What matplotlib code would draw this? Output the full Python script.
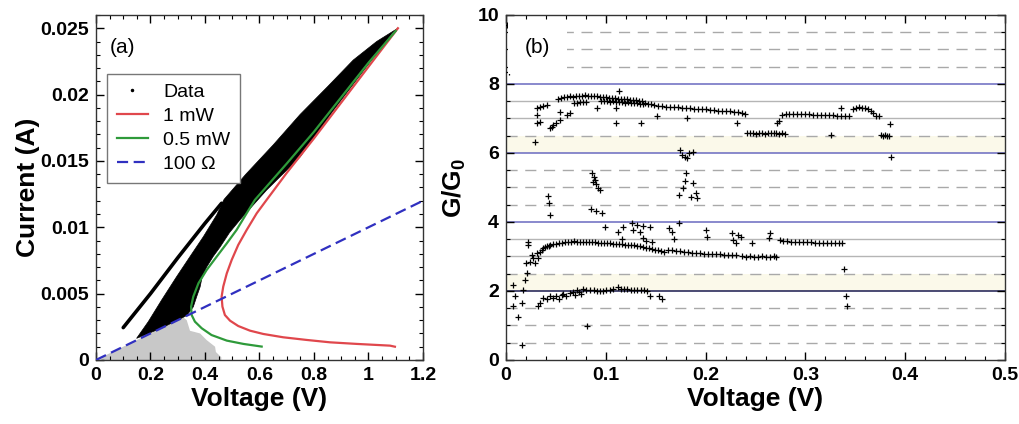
import matplotlib
matplotlib.use("Agg")
import matplotlib.pyplot as plt
from matplotlib.lines import Line2D
from matplotlib.ticker import MultipleLocator, FormatStrFormatter

plt.rcParams["font.family"] = ["Liberation Sans", "DejaVu Sans"]
plt.rcParams["mathtext.fontset"] = "custom"
plt.rcParams["mathtext.rm"] = "Liberation Sans:bold"
plt.rcParams["mathtext.bf"] = "Liberation Sans:bold"

# ---- painel (a): dados I-V ----
# contorno da nuvem preta de dados (tensão V, corrente A)
nuvem_v = [0.149, 0.192, 0.241, 0.296, 0.345, 0.394, 0.443, 0.47, 0.55, 0.65, 0.749, 0.85, 0.944, 1.03, 1.108,
           1.09, 0.993, 0.871, 0.749, 0.626, 0.528, 0.49, 0.455, 0.43, 0.406, 0.39, 0.382, 0.37, 0.357, 0.333, 0.24]
nuvem_i = [0.00163, 0.00289, 0.00452, 0.00628, 0.00779, 0.00929, 0.01093, 0.0121, 0.0140, 0.0162, 0.0185, 0.0206,
           0.0226, 0.0240, 0.0250,
           0.0247, 0.0221, 0.0188, 0.0153, 0.0128, 0.01055, 0.0096, 0.0085, 0.0078, 0.0070, 0.0063, 0.0055,
           0.0048, 0.0040, 0.00335, 0.0024]
# risco superior separado
risco_v = [0.10, 0.20, 0.30, 0.40, 0.461]
risco_i = [0.00244, 0.0050, 0.0077, 0.0103, 0.01181]
# dados cinza abaixo da reta de 100 ohm
cinza_v = [0.02, 0.02, 0.31, 0.315, 0.333, 0.345, 0.382, 0.406, 0.437, 0.44, 0.46, 0.46]
cinza_i = [0.0, 0.0002, 0.0031, 0.0033, 0.0030, 0.0022, 0.0020, 0.0015, 0.0010, 0.0006, 0.0002, 0.0]

# curvas do modelo
v_1mw = [1.097, 1.079, 0.957, 0.859, 0.773, 0.687, 0.614, 0.565, 0.522, 0.492, 0.473, 0.464, 0.461, 0.467,
         0.480, 0.498, 0.522, 0.553, 0.590, 0.626, 0.70, 0.80, 0.90, 1.00, 1.108]
i_1mw = [0.0010, 0.00108, 0.00121, 0.00133, 0.00151, 0.00171, 0.00196, 0.00221, 0.00256, 0.00296, 0.00339,
         0.00402, 0.00477, 0.00553, 0.00653, 0.00754, 0.00867, 0.0098, 0.01106, 0.01206, 0.0141, 0.0167,
         0.0194, 0.0221, 0.0250]
v_05mw = [0.608, 0.541, 0.480, 0.424, 0.388, 0.363, 0.351, 0.349, 0.357, 0.376, 0.406, 0.443, 0.480, 0.516,
          0.553, 0.583, 0.70, 0.80, 0.90, 1.00, 1.10]
i_05mw = [0.00101, 0.00121, 0.00146, 0.00188, 0.00239, 0.00289, 0.00339, 0.00402, 0.00477, 0.00578, 0.00678,
          0.00779, 0.00879, 0.0098, 0.01106, 0.01206, 0.0148, 0.0172, 0.0198, 0.0224, 0.0248]
v_ohm = [0.0, 1.2]
i_ohm = [0.0, 0.012]

# ---- painel (b): G/G0 vs tensão ----
v_topo = [0.052, 0.055, 0.058, 0.061, 0.064, 0.067, 0.070, 0.073, 0.076, 0.079, 0.082, 0.085, 0.088, 0.091,
          0.094, 0.097, 0.100, 0.103, 0.106, 0.109, 0.112, 0.115, 0.118, 0.121, 0.124, 0.127, 0.130, 0.133,
          0.136, 0.139, 0.142, 0.145, 0.148, 0.152, 0.156, 0.160, 0.164, 0.168, 0.172, 0.176, 0.180, 0.184,
          0.188, 0.192, 0.196, 0.200, 0.204, 0.208, 0.212, 0.216, 0.220, 0.224, 0.228, 0.232, 0.236, 0.239,
          0.068, 0.071, 0.074, 0.077, 0.080, 0.095, 0.098, 0.101, 0.104, 0.107, 0.110, 0.113, 0.116, 0.119,
          0.122, 0.125, 0.128, 0.131, 0.134, 0.137]
g_topo = [7.56, 7.60, 7.62, 7.63, 7.64, 7.63, 7.65, 7.64, 7.66, 7.67, 7.66, 7.65, 7.66, 7.64,
          7.63, 7.62, 7.61, 7.60, 7.59, 7.58, 7.57, 7.56, 7.55, 7.55, 7.54, 7.54, 7.53, 7.52,
          7.52, 7.46, 7.43, 7.41, 7.39, 7.37, 7.36, 7.34, 7.34, 7.33, 7.32, 7.31, 7.30, 7.29,
          7.28, 7.28, 7.27, 7.26, 7.25, 7.24, 7.23, 7.22, 7.21, 7.21, 7.20, 7.19, 7.17, 7.14,
          7.45, 7.46, 7.48, 7.49, 7.48, 7.50, 7.51, 7.50, 7.49, 7.50, 7.49, 7.48, 7.47, 7.46,
          7.47, 7.45, 7.44, 7.45, 7.43, 7.42]
v_direita = [0.241, 0.244, 0.247, 0.250, 0.253, 0.256, 0.259, 0.262, 0.265, 0.268, 0.271, 0.274, 0.277, 0.280,
             0.281, 0.284, 0.288, 0.292, 0.296, 0.300, 0.304, 0.308, 0.312, 0.316, 0.320, 0.324, 0.328, 0.332,
             0.336, 0.340, 0.344, 0.348, 0.351, 0.354, 0.357, 0.360, 0.363, 0.366, 0.368, 0.371, 0.374,
             0.376, 0.378, 0.380, 0.382, 0.384]
g_direita = [6.58, 6.57, 6.58, 6.56, 6.57, 6.58, 6.56, 6.57, 6.59, 6.58, 6.57, 6.56, 6.57, 6.55,
             7.14, 7.13, 7.13, 7.13, 7.12, 7.12, 7.12, 7.11, 7.11, 7.10, 7.10, 7.09, 7.09, 7.08,
             7.08, 7.08, 7.07, 7.28, 7.31, 7.32, 7.31, 7.30, 7.28, 7.22, 7.15, 7.08, 7.07,
             6.52, 6.50, 6.52, 6.49, 6.50]
v_baixo = [0.0224, 0.0225, 0.024, 0.026, 0.027, 0.029, 0.031, 0.032, 0.034, 0.036, 0.037, 0.039, 0.041, 0.043,
           0.044, 0.047, 0.050, 0.053, 0.056, 0.059, 0.062, 0.065, 0.068, 0.071, 0.074, 0.077, 0.080, 0.083,
           0.086, 0.089, 0.092, 0.095, 0.098, 0.101, 0.104, 0.107, 0.110, 0.113, 0.116, 0.119, 0.122, 0.125,
           0.128, 0.131, 0.134, 0.137, 0.140, 0.143, 0.146, 0.149, 0.152, 0.155, 0.158, 0.162, 0.166, 0.170,
           0.174, 0.178, 0.182, 0.186, 0.190, 0.194, 0.198, 0.202, 0.206, 0.210, 0.214, 0.218, 0.222, 0.226,
           0.230, 0.236, 0.240, 0.244, 0.248, 0.252, 0.256, 0.260, 0.264, 0.268, 0.271,
           0.275, 0.278, 0.282, 0.286, 0.290, 0.294, 0.298, 0.302, 0.306, 0.310, 0.314, 0.318, 0.322, 0.326,
           0.330, 0.334, 0.337,
           0.0067, 0.009, 0.0073, 0.0124, 0.0157, 0.0157, 0.0174, 0.019, 0.0207, 0.020]
g_baixo = [3.43, 3.33, 2.85, 3.04, 2.95, 2.80, 3.09, 2.95, 3.14, 3.20, 3.24, 3.27, 3.29, 3.31,
           3.33, 3.35, 3.37, 3.39, 3.40, 3.42, 3.43, 3.42, 3.44, 3.43, 3.42, 3.43, 3.42, 3.41,
           3.42, 3.41, 3.40, 3.40, 3.39, 3.38, 3.38, 3.37, 3.36, 3.36, 3.35, 3.34, 3.34, 3.33,
           3.32, 3.30, 3.29, 3.27, 3.25, 3.24, 3.22, 3.20, 3.18, 3.15, 3.14, 3.18, 3.19, 3.17,
           3.15, 3.14, 3.13, 3.11, 3.10, 3.09, 3.08, 3.07, 3.07, 3.06, 3.06, 3.05, 3.05, 3.04,
           3.04, 3.00, 2.99, 3.00, 2.98, 2.99, 3.00, 2.98, 2.99, 3.00, 2.99,
           3.48, 3.45, 3.44, 3.43, 3.43, 3.42, 3.42, 3.41, 3.41, 3.40, 3.40, 3.40, 3.40, 3.39,
           3.39, 3.38, 3.38,
           2.17, 1.84, 1.55, 1.26, 1.64, 0.43, 2.03, 2.32, 2.51, 2.80]
v_dois = [0.0324, 0.034, 0.0374, 0.041, 0.0441, 0.047, 0.050, 0.053, 0.056, 0.0575, 0.060, 0.0641, 0.067,
          0.069, 0.071, 0.073, 0.075, 0.0775, 0.080, 0.084, 0.088, 0.091, 0.094, 0.097, 0.100, 0.104, 0.1076,
          0.1126, 0.115, 0.118, 0.121, 0.125, 0.128, 0.131, 0.135, 0.138, 0.141, 0.144, 0.1537, 0.156, 0.0808,
          0.3385, 0.341, 0.342]
g_dois = [1.55, 1.64, 1.79, 1.76, 1.84, 1.80, 1.86, 1.78, 1.88, 1.91, 1.85, 1.93, 1.96,
          1.88, 2.03, 1.97, 1.90, 2.07, 2.02, 2.03, 2.02, 2.01, 2.01, 2.00, 2.02, 2.03, 2.05,
          2.11, 2.07, 2.05, 2.05, 2.04, 2.03, 2.03, 2.02, 2.02, 2.01, 1.84, 1.84, 1.78, 0.99,
          2.64, 1.86, 1.55]
v_soltos = [0.029, 0.031, 0.031, 0.034, 0.031, 0.034, 0.037, 0.041, 0.044, 0.046, 0.047, 0.050, 0.054, 0.054,
            0.061, 0.064, 0.091, 0.110, 0.110, 0.113, 0.135, 0.151, 0.181, 0.231, 0.272, 0.274, 0.277, 0.326,
            0.336, 0.385, 0.386, 0.001, 0.003,
            0.042, 0.043, 0.044, 0.086, 0.088, 0.089, 0.090, 0.092, 0.094, 0.087, 0.085, 0.090, 0.096, 0.099,
            0.174, 0.176, 0.179, 0.181, 0.183, 0.187, 0.180, 0.179, 0.177, 0.173, 0.187, 0.185, 0.190, 0.191,
            0.1126, 0.1176, 0.126, 0.131, 0.137, 0.144, 0.127, 0.134, 0.163, 0.166, 0.173, 0.200, 0.201, 0.226,
            0.232, 0.227, 0.230, 0.235, 0.246, 0.264, 0.263, 0.116, 0.137, 0.140, 0.168, 0.146]
g_soltos = [6.33, 7.10, 6.86, 6.91, 7.29, 7.33, 7.36, 7.39, 6.71, 6.76, 6.81, 6.86, 6.96, 7.20,
            7.10, 7.15, 7.29, 7.29, 6.86, 7.80, 6.88, 7.07, 7.00, 6.88, 6.86, 6.92, 7.10, 6.52,
            7.30, 6.83, 5.89, 9.71, 8.36,
            4.76, 4.56, 4.20, 5.41, 5.30, 5.22, 5.10, 4.98, 4.93, 5.15, 4.37, 4.33, 4.25, 3.84,
            6.09, 5.94, 5.89, 5.85, 5.99, 6.04, 5.41, 5.20, 4.98, 4.78, 5.12, 4.73, 4.83, 4.70,
            3.72, 3.86, 3.96, 3.91, 3.88, 3.86, 3.77, 3.72, 3.82, 3.72, 3.96, 3.77, 3.57, 3.67,
            3.62, 3.48, 3.40, 3.55, 3.38, 3.67, 3.53, 3.50, 3.53, 3.45, 3.50, 3.42]

niveis_azuis = [4, 6, 8]
niveis_cinza = [3, 3.5, 7, 7.5]
niveis_tracejados = [0.5, 1, 1.5, 2.5, 4.5, 5, 5.5, 6.5, 8.5, 9, 9.5]

fig = plt.figure(figsize=(10.19, 4.24), dpi=100)
ax1 = fig.add_axes([0.0942, 0.151, 0.3209, 0.8137])
ax2 = fig.add_axes([0.4966, 0.151, 0.4897, 0.8137])

# ---- (a) ----
ax1.fill(cinza_v, cinza_i, color="#c8c8c8", lw=0, zorder=1)
ax1.fill(nuvem_v, nuvem_i, color="black", lw=0.5, zorder=2)
ax1.plot(risco_v, risco_i, color="black", lw=2.6, solid_capstyle="round", zorder=2)
ax1.plot(v_1mw, i_1mw, color="#e0474c", lw=1.6, zorder=3)
ax1.plot(v_05mw, i_05mw, color="#2e9a3a", lw=1.6, zorder=3)
ax1.plot(v_ohm, i_ohm, color="#3030c0", lw=1.6, ls=(0, (5, 2.5)), zorder=4)

ax1.set_xlim(0, 1.2)
ax1.set_ylim(0, 0.026)
ax1.xaxis.set_major_locator(MultipleLocator(0.2))
ax1.xaxis.set_minor_locator(MultipleLocator(0.05))
ax1.yaxis.set_major_locator(MultipleLocator(0.005))
ax1.yaxis.set_minor_locator(MultipleLocator(0.001))
ax1.xaxis.set_major_formatter(FormatStrFormatter("%g"))
ax1.yaxis.set_major_formatter(FormatStrFormatter("%g"))
ax1.set_xlabel("Voltage (V)", fontsize=19, fontweight="bold", labelpad=2)
ax1.set_ylabel("Current (A)", fontsize=19, fontweight="bold", labelpad=0)
ax1.text(0.043, 0.905, "(a)", transform=ax1.transAxes, fontsize=15, va="center")

handles = [
    Line2D([], [], ls="none", marker=".", markersize=3, color="black", label="Data"),
    Line2D([], [], color="#e0474c", lw=1.6, label="1 mW"),
    Line2D([], [], color="#2e9a3a", lw=1.6, label="0.5 mW"),
    Line2D([], [], color="#3030c0", lw=1.6, ls=(0, (5, 2.5)), label="100 Ω"),
]
leg = ax1.legend(handles=handles, loc="upper left", bbox_to_anchor=(0.034, 0.829), fontsize=14,
                 fancybox=False, edgecolor="#777777", framealpha=1, borderaxespad=0,
                 handlelength=1.6, labelspacing=0.32, borderpad=0.5, handletextpad=0.8)
leg.get_frame().set_linewidth(1.0)

# ---- (b) ----
ax2.axhspan(6, 6.5, color="#fbf9ea", lw=0, zorder=0)
ax2.axhspan(2, 2.5, color="#fbf9ea", lw=0, zorder=0)
for nivel in niveis_tracejados:
    ax2.axhline(nivel, color="#a9a9a9", lw=1, ls=(0, (8, 5.5)), zorder=1)
for nivel in niveis_cinza:
    ax2.axhline(nivel, color="#b5b5b5", lw=1, zorder=1)
for nivel in niveis_azuis:
    ax2.axhline(nivel, color="#6a6ac0", lw=1.1, zorder=1)
ax2.axhline(2, color="#1a1a50", lw=1.1, zorder=1)

estilo = dict(ls="none", marker="+", markersize=3.8, mew=0.9, color="black", zorder=3)
ax2.plot(v_topo, g_topo, **estilo)
ax2.plot(v_direita, g_direita, **estilo)
ax2.plot(v_baixo, g_baixo, **estilo)
ax2.plot(v_dois, g_dois, **estilo)
ax2.plot(v_soltos, g_soltos, **estilo)

ax2.set_xlim(0, 0.5)
ax2.set_ylim(0, 10)
ax2.xaxis.set_major_locator(MultipleLocator(0.1))
ax2.xaxis.set_minor_locator(MultipleLocator(0.02))
ax2.yaxis.set_major_locator(MultipleLocator(2))
ax2.yaxis.set_minor_locator(MultipleLocator(0.5))
ax2.xaxis.set_major_formatter(FormatStrFormatter("%g"))
ax2.yaxis.set_major_formatter(FormatStrFormatter("%g"))
ax2.set_xlabel("Voltage (V)", fontsize=19, fontweight="bold", labelpad=2)
ax2.set_ylabel(r"G/G$_0$", fontsize=19, fontweight="bold", labelpad=7)
ax2.text(0.038, 0.905, "(b)", transform=ax2.transAxes, fontsize=15, va="center", zorder=5,
         bbox=dict(facecolor="white", edgecolor="none", pad=12))

for ax in (ax1, ax2):
    ax.tick_params(which="both", direction="in", top=True, right=True, labelsize=14, pad=5)
    ax.tick_params(which="major", length=6, width=1)
    ax.tick_params(which="minor", length=3, width=0.8)
    for lab in ax.get_xticklabels() + ax.get_yticklabels():
        lab.set_fontweight("bold")
    for s in ax.spines.values():
        s.set_linewidth(1.0)
        s.set_color("#333333")

fig.savefig("out.png", dpi=100)
